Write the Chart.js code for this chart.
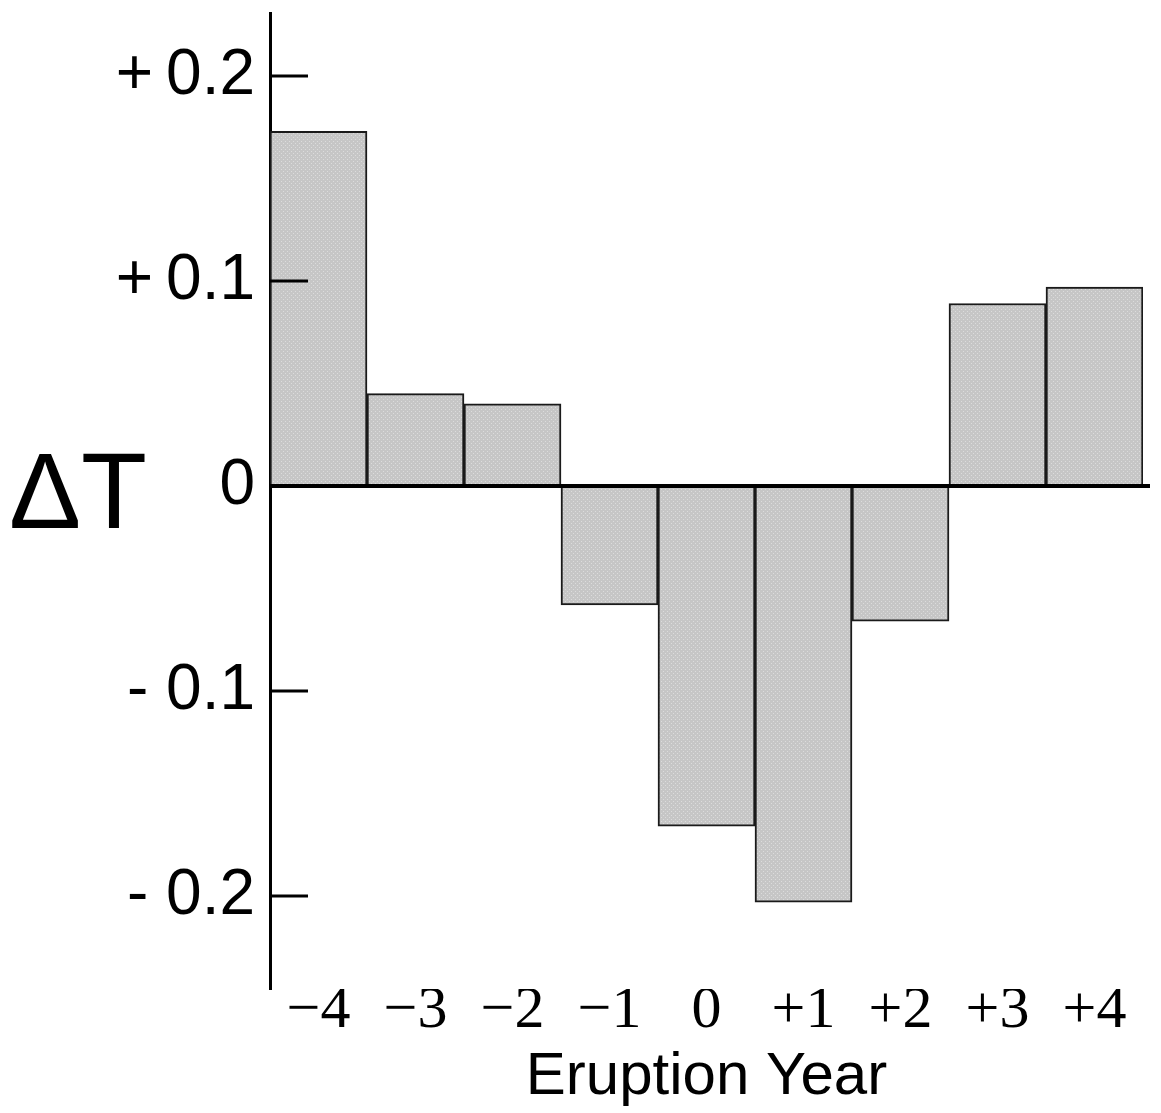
<!DOCTYPE html>
<html>
<head>
<meta charset="utf-8">
<script src="https://cdn.jsdelivr.net/npm/chart.js@4.4.1/dist/chart.umd.min.js"></script>
<style>
  html, body { margin: 0; padding: 0; background: #fff; }
  #wrap { width: 1161px; height: 1113px; position: relative; }
</style>
</head>
<body>
<div id="wrap"><canvas id="dt"></canvas></div>
<script>
// eruption years and temperature anomaly
var years = ["\u22124", "\u22123", "\u22122", "\u22121", "0", "+1", "+2", "+3", "+4"];
var deltaT = [0.173, 0.045, 0.040, -0.058, -0.166, -0.203, -0.066, 0.089, 0.097];
var yMin = -0.2454, yMax = 0.2307, yStep = 0.1;

// stippled grey fill like the original print
function stipple() {
  var c = document.createElement("canvas");
  c.width = 4; c.height = 4;
  var g = c.getContext("2d");
  g.fillStyle = "#c6c6c6";
  g.fillRect(0, 0, 4, 4);
  g.fillStyle = "#dcdcdc";
  g.fillRect(1, 1, 1, 1);
  g.fillRect(3, 3, 1, 1);
  return g.createPattern(c, "repeat");
}

var axisDecor = {
  id: "axisDecor",
  afterDatasetsDraw: function (chart) {
    var ctx = chart.ctx, ys = chart.scales.y, area = chart.chartArea;
    ctx.save();
    ctx.strokeStyle = "#000";
    // inward tick marks
    ctx.lineWidth = 3;
    ys.ticks.forEach(function (t) {
      if (Math.abs(t.value) < 1e-9) return;
      var py = Math.round(ys.getPixelForValue(t.value));
      ctx.beginPath();
      ctx.moveTo(area.left, py);
      ctx.lineTo(area.left + 38, py);
      ctx.stroke();
    });
    // zero line
    var y0 = ys.getPixelForValue(0);
    ctx.lineWidth = 4;
    ctx.beginPath();
    ctx.moveTo(area.left, y0);
    ctx.lineTo(area.right + 7, y0);
    ctx.stroke();
    // delta T label
    ctx.fillStyle = "#000";
    ctx.font = "108px 'Liberation Sans', Arial, sans-serif";
    ctx.textAlign = "center";
    ctx.textBaseline = "middle";
    ctx.fillText("\u0394T", 78, y0 + 12);
    ctx.restore();
  }
};

new Chart(document.getElementById("dt"), {
  type: "bar",
  data: {
    labels: years,
    datasets: [
      {
        label: "\u0394T",
        data: deltaT,
        backgroundColor: stipple(),
        borderColor: "#1a1a1a",
        borderWidth: 2,
        borderSkipped: false,
        barPercentage: 1,
        categoryPercentage: 1,
      },
    ],
  },
  options: {
    responsive: true,
    maintainAspectRatio: false,
    animation: false,
    layout: { padding: { top: 13, right: 18, left: 0, bottom: 0 } },
    plugins: { legend: { display: false }, tooltip: { enabled: false } },
    scales: {
      x: {
        grid: { display: false, drawTicks: false },
        border: { display: false },
        ticks: {
          color: "#000",
          padding: -14,
          font: { family: "'Liberation Serif', 'Times New Roman', serif", size: 60 },
        },
        title: {
          display: true,
          text: "Eruption Year",
          color: "#000",
          padding: { top: 0, bottom: 0 },
          font: { family: "'Liberation Sans', Arial, sans-serif", size: 60 },
        },
        afterFit: function (s) {
          s.height = 124;
          s.paddingLeft = 0;
          s.paddingRight = 0;
        },
      },
      y: {
        min: yMin,
        max: yMax,
        grid: { display: false, drawTicks: false },
        border: { display: true, color: "#000", width: 3 },
        ticks: {
          stepSize: yStep,
          includeBounds: false,
          color: "#000",
          padding: 15,
          font: { family: "'Liberation Sans', Arial, sans-serif", size: 64 },
          callback: function (v) {
            if (Math.abs(v) < 1e-9) return "0";
            return v > 0 ? "+\u2009" + v.toFixed(1) : "- " + Math.abs(v).toFixed(1);
          },
        },
        afterFit: function (s) {
          s.width = 270;
          s.paddingTop = 0;
          s.paddingBottom = 0;
        },
      },
    },
  },
  plugins: [axisDecor],
});
</script>
</body>
</html>
